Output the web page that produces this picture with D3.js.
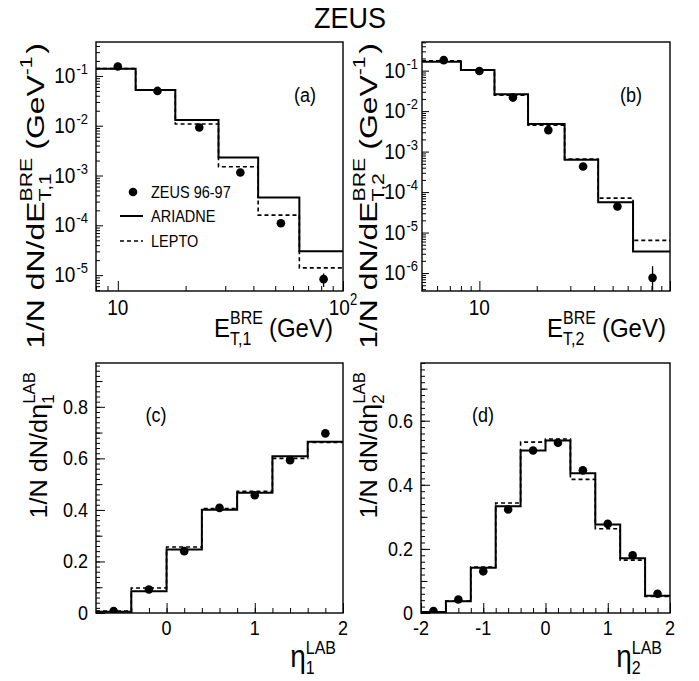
<!DOCTYPE html>
<html><head><meta charset="utf-8">
<script src="https://cdn.jsdelivr.net/npm/d3@7"></script>
<style>
body{margin:0;background:#fff}
svg{display:block}
text{font-family:"Liberation Sans",Arial,Helvetica,sans-serif;fill:#000}
</style>
</head><body>
<svg id="c" width="699" height="681"></svg>
<script>
// ---------- data ----------
// (a) E_T,1 BRE
const edgesA   = [8, 12, 18, 28, 42, 64, 100];
const ariadneA = [0.14, 0.052, 0.013, 0.0023, 3.6e-4, 3.0e-5];
const leptoA   = [0.14, 0.052, 0.0108, 1.5e-3, 1.6e-4, 1.4e-5];
const dataAx   = [10, 15, 23, 35, 53, 82];
const dataAy   = [0.155, 0.05, 0.0092, 1.15e-3, 1.1e-4, 8.3e-6];
const dataAerr = [0.005, 0.0012, 0.0003, 4e-5, 5e-6, 2.5e-6];
// (b) E_T,2 BRE
const edgesB   = [5, 8, 12, 18, 28, 42, 64, 100];
const ariadneB = [0.167, 0.103, 0.026, 4.8e-3, 6.3e-4, 5.6e-5, 3.4e-6];
const leptoB   = [0.176, 0.103, 0.0247, 4.5e-3, 6.5e-4, 7.1e-5, 6.4e-6];
const dataBx   = [6.5, 10, 15, 23, 35, 53, 81];
const dataBy   = [0.182, 0.098, 0.0216, 3.4e-3, 4.3e-4, 4.4e-5, 7.6e-7];
const dataBerr = [0.005, 0.002, 0.0006, 1e-4, 1.5e-5, 2.5e-6, 7.2e-7];
// (c) eta_1 LAB
const edgesC   = [-0.8, -0.4, 0, 0.4, 0.8, 1.2, 1.6, 2.0];
const ariadneC = [0.005, 0.084, 0.246, 0.401, 0.467, 0.608, 0.664];
const leptoC   = [0.008, 0.097, 0.256, 0.405, 0.472, 0.600, 0.662];
const dataCx   = [-0.6, -0.2, 0.2, 0.6, 1.0, 1.4, 1.8];
const dataCy   = [0.008, 0.091, 0.240, 0.408, 0.457, 0.593, 0.697];
// (d) eta_2 LAB
const edgesD   = [-2, -1.6, -1.2, -0.8, -0.4, 0, 0.4, 0.8, 1.2, 1.6, 2.0];
const ariadneD = [0.003, 0.037, 0.141, 0.333, 0.507, 0.538, 0.436, 0.276, 0.171, 0.054];
const leptoD   = [0.003, 0.037, 0.143, 0.343, 0.533, 0.543, 0.417, 0.263, 0.165, 0.052];
const dataDx   = [-1.8, -1.4, -1.0, -0.6, -0.2, 0.2, 0.6, 1.0, 1.4, 1.8];
const dataDy   = [0.006, 0.042, 0.130, 0.323, 0.507, 0.531, 0.445, 0.278, 0.180, 0.060];

const legendLabels = ["ZEUS 96-97", "ARIADNE", "LEPTO"];

// ---------- helpers ----------
const svg = d3.select("#c");

function rich(parent, x, y, parts, anchor, opt) {
  opt = opt || {};
  const sx = opt.sx || 1, sy = opt.sy || 1;
  const g = parent.append("g").attr("transform", `translate(${x},${y})` + (opt.rot ? ` rotate(${opt.rot})` : ""));
  const inner = g.append("g");
  let cx = 0;
  parts.forEach(p => {
    if (p.t !== undefined) {
      const t = inner.append("text").attr("x", cx).attr("y", p.dy || 0).attr("font-size", p.size).text(p.t);
      cx += t.node().getComputedTextLength() + (p.gap || 0);
    } else {
      let w = 0;
      if (p.sup) {
        const t = inner.append("text").attr("x", cx).attr("y", p.supDy).attr("font-size", p.size).text(p.sup);
        w = Math.max(w, t.node().getComputedTextLength());
      }
      if (p.sub) {
        const t = inner.append("text").attr("x", cx).attr("y", p.subDy).attr("font-size", p.size).text(p.sub);
        w = Math.max(w, t.node().getComputedTextLength());
      }
      cx += w + (p.gap || 0);
    }
  });
  const shift = anchor === "end" ? -cx * sx : anchor === "middle" ? -cx * sx / 2 : 0;
  inner.attr("transform", `translate(${shift},0) scale(${sx},${sy})`);
  return g;
}

function stepPath(x, y, edges, vals) {
  let d = "";
  vals.forEach((v, i) => {
    const yy = y(v);
    if (i === 0) d += `M${x(edges[0])},${yy}`;
    else d += `L${x(edges[i])},${yy}`;
    d += `L${x(edges[i + 1])},${yy}`;
  });
  return d;
}

function logTicks(dom) {
  const out = { major: [], minor: [] };
  const lo = Math.floor(Math.log10(dom[0])), hi = Math.ceil(Math.log10(dom[1]));
  for (let n = lo; n <= hi; n++) for (let k = 1; k <= 9; k++) {
    const v = k * Math.pow(10, n);
    if (v >= dom[0] * 0.9999 && v <= dom[1] * 1.0001) (k === 1 ? out.major : out.minor).push(v);
  }
  return out;
}

function range(a, b, s) { const r = []; for (let v = a; v <= b + 1e-9; v += s) r.push(+v.toFixed(6)); return r; }

function tickAxis(g, axisFn, scale, vals, size) {
  g.append("g").call(axisFn(scale).tickValues(vals).tickSize(size).tickFormat(""))
    .call(s => s.select(".domain").remove())
    .call(s => s.selectAll("line").attr("stroke", "#000").attr("stroke-width", 1));
}

function panel(cfg) {
  const { L, R, T, B } = cfg;
  const g = svg.append("g");
  const x = (cfg.xlog ? d3.scaleLog() : d3.scaleLinear()).domain(cfg.xdom).range([L, R]);
  const y = (cfg.ylog ? d3.scaleLog() : d3.scaleLinear()).domain(cfg.ydom).range([B, T]);
  const clipId = "clip" + cfg.id;
  g.append("clipPath").attr("id", clipId).append("rect").attr("x", L).attr("y", T).attr("width", R - L).attr("height", B - T);

  // ticks (inward)
  const gx = g.append("g").attr("transform", `translate(0,${B})`);
  const gy = g.append("g").attr("transform", `translate(${L},0)`);
  if (cfg.xlog) {
    const t = logTicks(cfg.xdom);
    tickAxis(gx, d3.axisBottom, x, t.major, -10);
    tickAxis(gx, d3.axisBottom, x, t.minor, -5);
  } else {
    tickAxis(gx, d3.axisBottom, x, cfg.xMajor, -10);
    tickAxis(gx, d3.axisBottom, x, cfg.xMinor, -5);
  }
  if (cfg.ylog) {
    const t = logTicks(cfg.ydom);
    tickAxis(gy, d3.axisLeft, y, t.major, -7);
    tickAxis(gy, d3.axisLeft, y, t.minor, -4);
  } else {
    tickAxis(gy, d3.axisLeft, y, cfg.yMajor, -9);
    tickAxis(gy, d3.axisLeft, y, cfg.yMid, -6.5);
    tickAxis(gy, d3.axisLeft, y, cfg.yMinor, -4);
  }

  const plot = g.append("g").attr("clip-path", `url(#${clipId})`);
  plot.append("path").attr("d", stepPath(x, y, cfg.edges, cfg.lepto))
    .attr("fill", "none").attr("stroke", "#000").attr("stroke-width", 1.6).attr("stroke-dasharray", "4,3");
  plot.append("path").attr("d", stepPath(x, y, cfg.edges, cfg.ariadne))
    .attr("fill", "none").attr("stroke", "#000").attr("stroke-width", 2);
  cfg.dx.forEach((xv, i) => {
    const yv = cfg.dy[i];
    if (cfg.derr) {
      const e = cfg.derr[i];
      const lo = cfg.ylog ? Math.max(yv - e, cfg.ydom[0] * 0.5) : yv - e;
      plot.append("line").attr("x1", x(xv)).attr("x2", x(xv)).attr("y1", y(lo)).attr("y2", y(yv + e))
        .attr("stroke", "#000").attr("stroke-width", 1.3);
    }
    plot.append("circle").attr("cx", x(xv)).attr("cy", y(yv)).attr("r", 4.3).attr("fill", "#000");
  });

  g.append("rect").attr("x", L).attr("y", T).attr("width", R - L).attr("height", B - T)
    .attr("fill", "none").attr("stroke", "#000").attr("stroke-width", 1.4);

  // tick labels
  if (cfg.ylog) {
    logTicks(cfg.ydom).major.forEach(v => {
      const e = Math.round(Math.log10(v));
      rich(g, L - cfg.yLabOff, y(v) + 7, [{ t: "10", size: 19, gap: 1 }, { sup: String(e), supDy: -8, size: 13 }], "end", { sy: 1.12 });
    });
  } else {
    cfg.yMajor.forEach(v => {
      rich(g, L - 8, y(v) + 7, [{ t: v === 0 ? "0" : d3.format(".1f")(v), size: 18 }], "end", { sy: 1.1 });
    });
  }
  cfg.xLabels.forEach(l => {
    const parts = l.sup ? [{ t: l.t, size: cfg.xLabSize }, { sup: l.sup, supDy: -8, size: 13 }] : [{ t: l.t, size: cfg.xLabSize }];
    rich(g, x(l.v) + (l.off || 0), B + cfg.xLabDy, parts, "middle", { sy: cfg.xLabSy });
  });

  // panel label
  rich(g, cfg.labX, cfg.labY, [{ t: cfg.label, size: 18 }], "middle", { sy: 1.1 });

  // axis titles
  rich(g, cfg.xtX, cfg.xtY, cfg.xTitle, "end", { sy: 1.1 });
  rich(g, cfg.ytX, cfg.ytTop, cfg.yTitle, "end", { rot: -90, sx: cfg.ytStretch });
  return { x, y, g };
}

// ---------- title ----------
rich(svg, 350, 28, [{ t: "ZEUS", size: 27 }], "middle", { sy: 1.12 });

// ---------- panels ----------
const pa = panel({
  id: "a", L: 96, R: 343, T: 42, B: 291, xlog: true, ylog: true,
  xdom: [8, 100], ydom: [4.8e-6, 0.48], edges: edgesA, ariadne: ariadneA, lepto: leptoA,
  dx: dataAx, dy: dataAy, derr: dataAerr, yLabOff: 8, xLabSize: 19, xLabDy: 24, xLabSy: 1.2,
  xLabels: [{ v: 10, t: "10" }, { v: 100, t: "10", sup: "2", off: 0 }],
  label: "(a)", labX: 305, labY: 102, xtX: 333, xtY: 337, ytX: 44, ytTop: 43, ytStretch: 1.33,
  xTitle: [{ t: "E", size: 24 }, { sup: "BRE", sub: "T,1", supDy: -12, subDy: 7, size: 16, gap: 6 }, { t: "(GeV)", size: 24 }],
  yTitle: [{ t: "1/N dN/dE", size: 24 }, { sup: "BRE", sub: "T,1", supDy: -12, subDy: 7, size: 16, gap: 6 },
           { t: "(GeV", size: 24 }, { sup: "-1", supDy: -12, size: 16, gap: 2 }, { t: ")", size: 24 }]
});
const pb = panel({
  id: "b", L: 422, R: 670, T: 42, B: 291, xlog: true, ylog: true,
  xdom: [5, 100], ydom: [3.6e-7, 0.51], edges: edgesB, ariadne: ariadneB, lepto: leptoB,
  dx: dataBx, dy: dataBy, derr: dataBerr, yLabOff: 4, xLabSize: 19, xLabDy: 24, xLabSy: 1.2,
  xLabels: [{ v: 10, t: "10" }],
  label: "(b)", labX: 631, labY: 102, xtX: 666, xtY: 337, ytX: 377, ytTop: 43, ytStretch: 1.33,
  xTitle: [{ t: "E", size: 24 }, { sup: "BRE", sub: "T,2", supDy: -12, subDy: 7, size: 16, gap: 6 }, { t: "(GeV)", size: 24 }],
  yTitle: [{ t: "1/N dN/dE", size: 24 }, { sup: "BRE", sub: "T,2", supDy: -12, subDy: 7, size: 16, gap: 6 },
           { t: "(GeV", size: 24 }, { sup: "-1", supDy: -12, size: 16, gap: 2 }, { t: ")", size: 24 }]
});
const pc = panel({
  id: "c", L: 96, R: 343, T: 363, B: 613, xlog: false, ylog: false,
  xdom: [-0.8, 2], ydom: [0, 0.97], edges: edgesC, ariadne: ariadneC, lepto: leptoC,
  dx: dataCx, dy: dataCy, xLabSize: 18, xLabDy: 22, xLabSy: 1.1,
  xMajor: [0, 1, 2], xMinor: range(-0.6, 2, 0.2),
  yMajor: [0, 0.2, 0.4, 0.6, 0.8], yMid: range(0.1, 0.9, 0.2), yMinor: range(0, 0.96, 0.02),
  xLabels: [{ v: 0, t: "0" }, { v: 1, t: "1" }, { v: 2, t: "2" }],
  label: "(c)", labX: 156, labY: 422, xtX: 336, xtY: 667, ytX: 47, ytTop: 372, ytStretch: 1.05,
  xTitle: [{ t: "η", size: 28 }, { sup: "LAB", sub: "1", supDy: -12, subDy: 6, size: 16 }],
  yTitle: [{ t: "1/N dN/d", size: 24 }, { t: "η", size: 26 }, { sup: "LAB", sub: "1", supDy: -12, subDy: 7, size: 16 }]
});
const pd = panel({
  id: "d", L: 421, R: 670, T: 363, B: 613, xlog: false, ylog: false,
  xdom: [-2, 2], ydom: [0, 0.78], edges: edgesD, ariadne: ariadneD, lepto: leptoD,
  dx: dataDx, dy: dataDy, xLabSize: 18, xLabDy: 22, xLabSy: 1.1,
  xMajor: [-2, -1, 0, 1, 2], xMinor: range(-2, 2, 0.2),
  yMajor: [0, 0.2, 0.4, 0.6], yMid: range(0.1, 0.7, 0.2), yMinor: range(0, 0.78, 0.02),
  xLabels: [{ v: -2, t: "-2" }, { v: -1, t: "-1" }, { v: 0, t: "0" }, { v: 1, t: "1" }, { v: 2, t: "2" }],
  label: "(d)", labX: 483, labY: 422, xtX: 662, xtY: 667, ytX: 377, ytTop: 372, ytStretch: 1.05,
  xTitle: [{ t: "η", size: 28 }, { sup: "LAB", sub: "2", supDy: -12, subDy: 6, size: 16 }],
  yTitle: [{ t: "1/N dN/d", size: 24 }, { t: "η", size: 26 }, { sup: "LAB", sub: "2", supDy: -12, subDy: 7, size: 16 }]
});

// ---------- legend in (a) ----------
const lg = svg.append("g");
lg.append("circle").attr("cx", 133).attr("cy", 192).attr("r", 4.3).attr("fill", "#000");
lg.append("line").attr("x1", 120).attr("x2", 143).attr("y1", 216).attr("y2", 216).attr("stroke", "#000").attr("stroke-width", 2);
lg.append("line").attr("x1", 120).attr("x2", 143).attr("y1", 241).attr("y2", 241).attr("stroke", "#000").attr("stroke-width", 1.6).attr("stroke-dasharray", "4,3");
[192, 216, 241].forEach((yy, i) => {
  rich(lg, 151, yy + 5.5, [{ t: legendLabels[i], size: 14.5 }], "start", { sy: 1.08 });
});
</script>
</body></html>
